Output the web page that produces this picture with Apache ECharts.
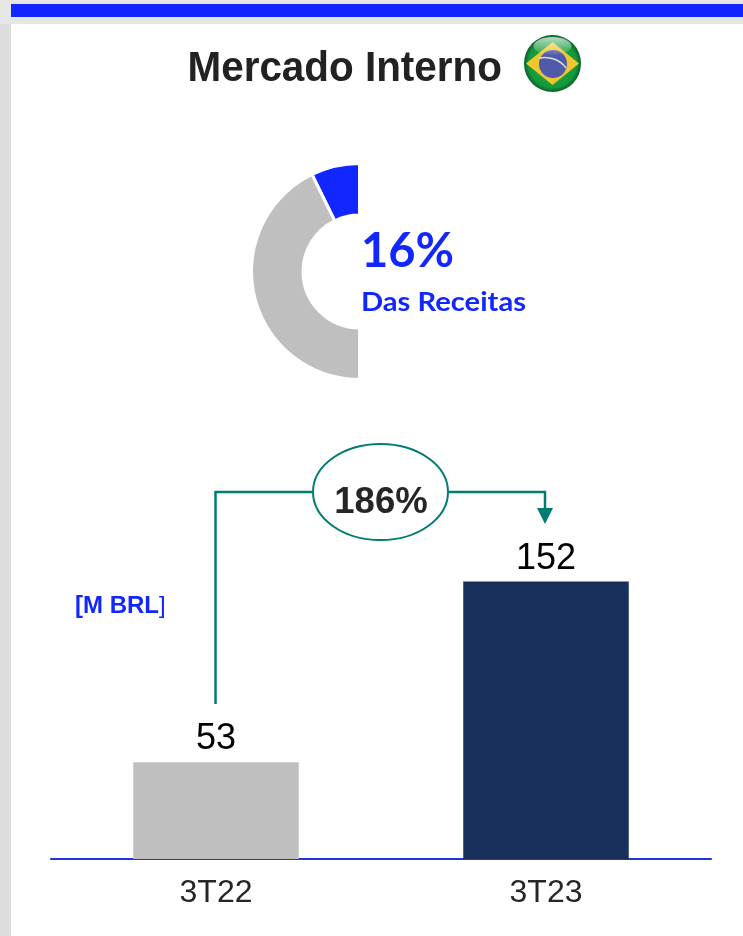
<!DOCTYPE html>
<html>
<head>
<meta charset="utf-8">
<title>Mercado Interno</title>
<script src="https://cdn.jsdelivr.net/npm/echarts@6/dist/echarts.min.js"></script>
<style>
    html, body {margin: 0; padding: 0; background: #fff;}
    #chart {width: 743px; height: 936px;}
</style>
</head>
<body>
<div id="chart"></div>
<script>
var titleText = 'Mercado Interno';
var shareText = '16%';
var shareCaption = 'Das Receitas';
var growthText = '186%';

// arc shares as drawn in the picture (the blue slice is drawn a bit under 16% of the half ring)
var donutNames = ['Mercado Interno', 'Outros'];
var donutValues = [14.5, 85.5];

var quarters = ['3T22', '3T23'];
var revenue = [53, 152];

var BLUE = '#1226ff';
var TEAL = '#007c72';
var SANS = '"Liberation Sans", Arial, sans-serif';
var CALIBRI = 'Lato, "Open Sans", sans-serif';

function label(x, y, text, size, color, weight, family, align, extra) {
    var e = {
        type: 'text', x: x, y: y, z: 20,
        style: {
            text: text, fontSize: size, fill: color, fontWeight: weight || 'normal',
            fontFamily: family || SANS, align: align || 'left', verticalAlign: 'middle'
        }
    };
    for (var k in extra) {
        e[k] = extra[k];
    }
    return e;
}

function line(points, width) {
    return {
        type: 'polyline', z: 15,
        shape: {points: points},
        style: {stroke: TEAL, lineWidth: width || 2.5, fill: null}
    };
}

var page = [
    {type: 'rect', z: -10, shape: {x: 0, y: 0, width: 743, height: 936}, style: {fill: '#ffffff'}},
    {type: 'rect', z: -9, shape: {x: 0, y: 0, width: 11, height: 936}, style: {fill: '#dddddd'}},
    {type: 'rect', z: -9, shape: {x: 0, y: 0, width: 743, height: 24}, style: {fill: '#e7e6e6'}},
    {type: 'rect', z: -8, shape: {x: 11, y: 4, width: 732, height: 13}, style: {fill: BLUE}}
];

var flag = [
    {
        type: 'circle', z: 10, shape: {cx: 552.5, cy: 63.5, r: 28.5},
        style: {
            fill: new echarts.graphic.RadialGradient(0.5, 0.5, 0.5, [
                {offset: 0, color: '#35b04a'}, {offset: 0.85, color: '#12973a'}, {offset: 1, color: '#0b5e2a'}
            ])
        }
    },
    {
        type: 'polygon', z: 11,
        shape: {points: [[552.5, 42], [579, 63.5], [552.5, 85], [526, 63.5]]},
        style: {fill: '#f0c630'}
    },
    {type: 'circle', z: 12, shape: {cx: 553, cy: 64, r: 14}, style: {fill: '#4f5aa8'}},
    {
        type: 'arc', z: 13,
        shape: {cx: 545, cy: 84, r: 26.5, startAngle: -1.8, endAngle: -0.65, clockwise: true},
        style: {stroke: '#d6e0dc', lineWidth: 1.5, fill: null}
    },
    {
        type: 'ellipse', z: 14, shape: {cx: 552.5, cy: 46, rx: 19, ry: 9},
        style: {
            fill: new echarts.graphic.LinearGradient(0, 0, 0, 1, [
                {offset: 0, color: 'rgba(255,255,255,0.7)'}, {offset: 1, color: 'rgba(255,255,255,0.05)'}
            ])
        }
    }
];

var texts = [
    label(187.5, 69.5, titleText, 43, '#222222', 'bold', SANS, 'left', {scaleX: 0.94}),
    label(361, 252, shareText, 47, BLUE, 'bold', CALIBRI),
    label(361, 302, shareCaption, 26.5, BLUE, 'bold', CALIBRI, 'left', {scaleX: 1.1}),
    {
        type: 'text', x: 75, y: 606, z: 20,
        style: {
            text: '{b|[M BRL}{n|]}', verticalAlign: 'middle',
            rich: {
                b: {fontSize: 24, fontWeight: 'bold', fontFamily: SANS, fill: BLUE},
                n: {fontSize: 24, fontFamily: SANS, fill: BLUE}
            }
        }
    },
    label(381, 503, growthText, 36.5, '#262626', 'bold', SANS, 'center')
];

var connector = [
    line([[215.5, 704], [215.5, 492], [313, 492]]),
    line([[448, 492], [545, 492], [545, 510]]),
    {
        type: 'ellipse', z: 15, shape: {cx: 380.5, cy: 492, rx: 67.5, ry: 48},
        style: {stroke: TEAL, lineWidth: 2, fill: 'none'}
    },
    {
        type: 'polygon', z: 15, shape: {points: [[537, 508], [553, 508], [545, 524]]},
        style: {fill: TEAL}
    }
];

var chart = echarts.init(document.getElementById('chart'));
chart.setOption({
    animation: false,
    backgroundColor: 'transparent',
    graphic: {elements: page.concat(flag, connector, texts)},
    grid: {left: 51, top: 494, width: 660, height: 365},
    xAxis: {
        type: 'category',
        data: quarters,
        axisTick: {show: false},
        axisLine: {lineStyle: {color: '#2233dd', width: 2}},
        axisLabel: {fontSize: 32, fontFamily: SANS, color: '#262626', margin: 18}
    },
    yAxis: {type: 'value', min: 0, max: 200, show: false},
    series: [
        {
            type: 'pie',
            center: [359.5, 271.5],
            radius: [56.5, 108],
            startAngle: 90,
            endAngle: 270,
            clockwise: false,
            silent: true,
            label: {show: false},
            labelLine: {show: false},
            itemStyle: {borderColor: '#ffffff', borderWidth: 3},
            data: [
                {name: donutNames[0], value: donutValues[0], itemStyle: {color: BLUE}},
                {name: donutNames[1], value: donutValues[1], itemStyle: {color: '#bfbfbf'}}
            ]
        },
        {
            type: 'bar',
            barWidth: 165.5,
            label: {show: true, position: 'top', distance: 5, fontSize: 36, fontFamily: SANS, color: '#000000'},
            data: [
                {value: revenue[0], itemStyle: {color: '#bfbfbf'}},
                {value: revenue[1], itemStyle: {color: '#172f5a'}}
            ]
        }
    ]
});
</script>
</body>
</html>
